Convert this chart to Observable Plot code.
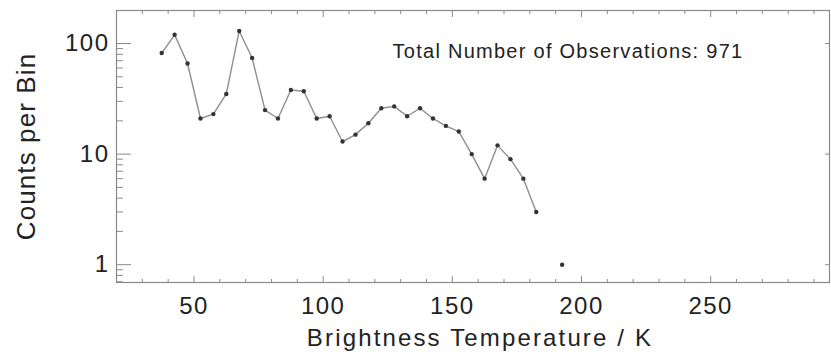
<!DOCTYPE html>
<html>
<head>
<meta charset="utf-8">
<script src="https://cdn.jsdelivr.net/npm/d3@7"></script>
<script src="https://cdn.jsdelivr.net/npm/@observablehq/plot@0.6"></script>
<style>
  html, body { margin: 0; padding: 0; background: #fff; }
  #chart svg { display: block; }
  g[aria-label="x-axis tick label"] text,
  g[aria-label="y-axis tick label"] text { letter-spacing: 1.5px; }
</style>
</head>
<body>
<div id="chart"></div>
<script>
// Bin centres (K) and counts per bin
const binCenters = [37.5, 42.5, 47.5, 52.5, 57.5, 62.5, 67.5, 72.5, 77.5, 82.5,
  87.5, 92.5, 97.5, 102.5, 107.5, 112.5, 117.5, 122.5, 127.5, 132.5,
  137.5, 142.5, 147.5, 152.5, 157.5, 162.5, 167.5, 172.5, 177.5, 182.5,
  187.5, 192.5];
const counts = [82, 120, 66, 21, 23, 35, 130, 74, 25, 21,
  38, 37, 21, 22, 13, 15, 19, 26, 27, 22,
  26, 21, 18, 16, 10, 6, 12, 9, 6, 3,
  0, 1];

const xMajorTicks = [50, 100, 150, 200, 250];
const xMinorTicks = [30, 40, 60, 70, 80, 90, 110, 120, 130, 140, 160, 170, 180, 190, 210, 220, 230, 240, 260, 270, 280, 290];
const yMajorTicks = [1, 10, 100];
const yMinorTicks = [0.7, 0.8, 0.9, 2, 3, 4, 5, 6, 7, 8, 9, 20, 30, 40, 50, 60, 70, 80, 90];

const xLabel = "Brightness Temperature / K";
const yLabel = "Counts per Bin";
const note = "Total Number of Observations: 971";

const data = binCenters.map((x, i) => ({x, n: counts[i]}));
const axisColor = "#8a8a8a";
const textColor = "#222";

const chart = Plot.plot({
  width: 831,
  height: 356,
  marginLeft: 116,
  marginRight: 2,
  marginTop: 10,
  marginBottom: 74,
  style: {fontFamily: "'Liberation Sans', Arial, Helvetica, sans-serif", background: "#fff", color: textColor},
  x: {type: "linear", domain: [20, 296]},
  y: {type: "log", domain: [0.69, 199]},
  marks: [
    Plot.frame({stroke: axisColor, strokeWidth: 1.2}),
    // bottom axis
    Plot.axisX({anchor: "bottom", ticks: xMinorTicks, tickSize: -3, fill: "none", stroke: axisColor, label: null}),
    Plot.axisX({anchor: "bottom", ticks: xMajorTicks, tickSize: -6, fill: "none", stroke: axisColor, label: null}),
    Plot.axisX({anchor: "bottom", ticks: xMajorTicks, tickSize: 0, tickPadding: 14, fontSize: 24, fill: textColor, label: null, tickFormat: d => String(d)}),
    // top axis (ticks only)
    Plot.axisX({anchor: "top", ticks: xMinorTicks, tickSize: -3, fill: "none", stroke: axisColor, label: null}),
    Plot.axisX({anchor: "top", ticks: xMajorTicks, tickSize: -6, fill: "none", stroke: axisColor, label: null}),
    // left axis
    Plot.axisY({anchor: "left", ticks: yMinorTicks, tickSize: -7, fill: "none", stroke: axisColor, label: null}),
    Plot.axisY({anchor: "left", ticks: yMajorTicks, tickSize: -15, fill: "none", stroke: axisColor, label: null}),
    Plot.axisY({anchor: "left", ticks: yMajorTicks, tickSize: 0, tickPadding: 7, fontSize: 24, fill: textColor, label: null, tickFormat: d => String(d)}),
    // right axis (major ticks only)
    Plot.axisY({anchor: "right", ticks: yMajorTicks, tickSize: -5, fill: "none", stroke: axisColor, label: null}),
    // data
    Plot.line(data, {x: "x", y: d => d.n > 0 ? d.n : NaN, stroke: "#8e8e8e", strokeWidth: 1.4}),
    Plot.dot(data.filter(d => d.n > 0), {x: "x", y: "n", r: 2.2, fill: "#333", stroke: "none"}),
    // labels
    Plot.text([note], {frameAnchor: "top-left", dx: 276, dy: 41, text: d => d, textAnchor: "start", lineAnchor: "middle", fontSize: 20, fill: textColor}),
    Plot.text([xLabel], {frameAnchor: "bottom", dx: 7, dy: 56, text: d => d, textAnchor: "middle", lineAnchor: "middle", fontSize: 24, fill: textColor}),
    Plot.text([yLabel], {frameAnchor: "left", dx: -90, dy: 0, text: d => d, textAnchor: "middle", rotate: -90, lineAnchor: "middle", fontSize: 26, fill: textColor})
  ]
});
const spacing = new Map([[note, "1.27px"], [xLabel, "2.15px"], [yLabel, "1.1px"]]);
d3.select(chart).selectAll("text").each(function() {
  const s = spacing.get(this.textContent);
  if (s) this.style.letterSpacing = s;
});
document.getElementById("chart").appendChild(chart);
</script>
</body>
</html>
